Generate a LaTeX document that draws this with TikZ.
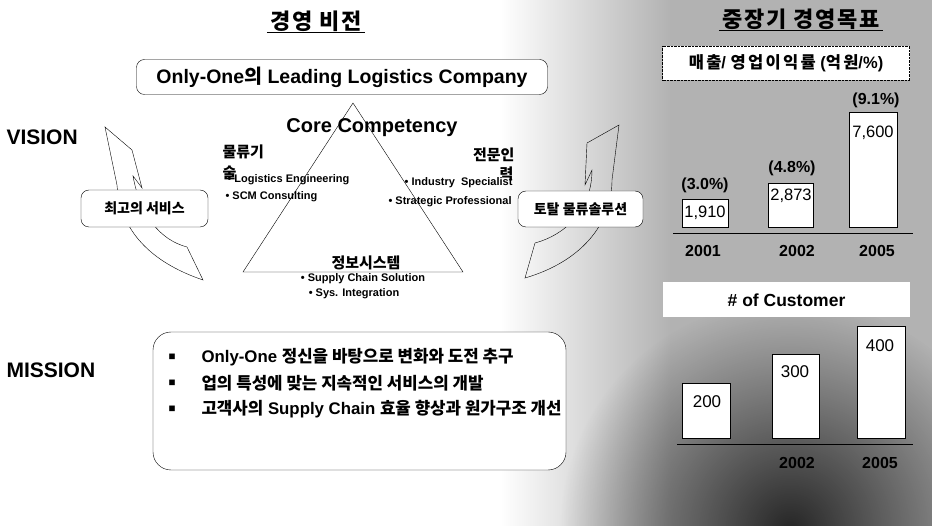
\documentclass[tikz,border=0pt]{standalone}
\usepackage{fontspec}
\setmainfont{Liberation Sans}
\newfontfamily\kr{Noto Sans CJK KR}
\newfontfamily\krwide{Noto Sans CJK KR}[LetterSpace=8]
\newfontfamily\krwider{Noto Sans CJK KR}[LetterSpace=14]
\usetikzlibrary{positioning, fadings}
\tikzfading[name=photo, inner color=transparent!0, outer color=transparent!100]

\begin{document}
\begin{tikzpicture}[x=1pt, y=-1pt, thin,
	rbox/.style={draw, rounded corners=8pt, fill=white, inner sep=0pt},
	head/.style={font=\krwide\bfseries\fontsize{22}{22}\selectfont},
	big/.style={font=\bfseries\fontsize{21}{21}\selectfont},
	sub/.style={font=\kr\bfseries\fontsize{15}{15}\selectfont},
	small/.style={font=\bfseries\fontsize{11}{11}\selectfont},
	mid/.style={font=\kr\bfseries\fontsize{14}{14}\selectfont},
	pct/.style={font=\bfseries\fontsize{16}{16}\selectfont},
	num/.style={font=\fontsize{16.5}{16.5}\selectfont},
	bar/.style={draw, fill=white}]
	\useasboundingbox (0,0) rectangle (932,526);
	
	%background
	\fill[gray!60] (600,0) rectangle (932,526);
	\fill[left color=white, right color=gray!60] (500,0) rectangle (670,526);
	\fill[black!85, path fading=photo] (790,530) circle (230);
	
	%titles
	\node[head] (t1) at (316,21){경영 비전};
	\draw ([yshift=-3pt]t1.base west) -- ([yshift=-3pt]t1.base east);
	\node[head] (t2) at (801,19){중장기 경영목표};
	\draw ([yshift=-3pt]t2.base west) -- ([yshift=-3pt]t2.base east);
	
	%vision
	\node[rbox, minimum width=411pt, minimum height=35pt, font=\bfseries\fontsize{19.5}{19.5}\selectfont] (goal) at (342,77){Only-One{\kr 의} Leading Logistics Company};
	\node[big, anchor=west] (vis) at (3,137){VISION};
	
	%cycle arrows
	\draw (105,127) -- (132,150) -- (142,188) -- (133,176)
		.. controls (140,215) and (160,240) .. (187,247) -- (203,280)
		.. controls (150,262) and (120,230) .. (117,185) -- cycle;
	\draw (619,125) -- (587,143) -- (585,185) -- (592,170)
		.. controls (592,210) and (565,235) .. (535,243) -- (525,278)
		.. controls (580,262) and (612,225) .. (612,180) -- cycle;
	
	%core competency
	\coordinate (apex) at (353,103);
	\coordinate (bl) at (243,272);
	\coordinate (br) at (463,272);
	\draw (apex) -- (bl) -- (br) -- cycle;
	\node[font=\bfseries\fontsize{20}{20}\selectfont] (core) at (372,128){Core Competency};
	
	\node[sub, anchor=west] (c1) at (219,152){물류기};
	\node[small, anchor=west] (c1a) at (224,180){• Logistics Engineering};
	\node[sub, anchor=west] (c1b) at (219,173){술};
	\node[small, anchor=west] (c1c) at (222,197){• SCM Consulting};
	
	\node[sub, anchor=east] (c2) at (518,155){전문인};
	\node[small, anchor=east] (c2a) at (516,183){• Industry \ Specialist};
	\node[sub, anchor=east] (c2b) at (517,174){력};
	\node[small, anchor=west] (c2c) at (385,202){• Strategic Professional};
	
	\node[sub] (c3) at (366,263){정보시스템};
	\node[small] (c3a) at (363,279){• Supply Chain Solution};
	\node[small] (c3b) at (354,294){• Sys. Integration};
	
	\node[rbox, mid, minimum width=127pt, minimum height=37pt] (svc) at (144.5,208.5){최고의 서비스};
	\node[rbox, mid, minimum width=125pt, minimum height=36pt] (sol) at (580.5,209){토탈 물류솔루션};
	
	%mission
	\node[big, anchor=west] (mis) at (3,370){MISSION};
	\node[rbox, minimum width=413pt, minimum height=138pt, rounded corners=18pt] (mbox) at (359.5,401){};
	\foreach \i/\y/\txt in {1/357/Only-One {\kr 정신을 바탕으로 변화와 도전 추구},
		2/383/{\kr 업의 특성에 맞는 지속적인 서비스의 개발},
		3/409/{\kr 고객사의} Supply Chain {\kr 효율 향상과 원가구조 개선}}{
		\node[font=\kr\fontsize{7}{7}\selectfont] (mb\i) at (172,\y){■};
		\node[font=\bfseries\fontsize{16.8}{16.8}\selectfont, anchor=west] (ml\i) at (198,\y){\txt};
	}
	
	%sales chart
	\node[draw, densely dotted, fill=white, minimum width=247pt, minimum height=34pt, inner sep=0pt] (sales) at (786,63.5){};
	\node[font=\bfseries\fontsize{16.5}{16.5}\selectfont] (salest) at (786,63.5){{\krwider 매출}/ {\krwider 영업이익률} ({\krwider 억원}/\%)};
	\draw (673,233) -- (913,233);
	\foreach \xl/\xr/\yt in {682/728/199, 768/813/183, 849/897/112}{
		\draw[bar] (\xl,\yt) rectangle (\xr,227);
	}
	\node[num] (s1) at (705,213){1,910};
	\node[num] (s2) at (791,196){2,873};
	\node[num] (s3) at (873,133){7,600};
	\node[pct] (p1) at (705,185){(3.0\%)};
	\node[pct] (p2) at (792,168){(4.8\%)};
	\node[pct] (p3) at (876,100){(9.1\%)};
	\node[pct] (y1) at (703,251){2001};
	\node[pct] (y2) at (797,251){2002};
	\node[pct] (y3) at (877,251){2005};
	
	%customer chart
	\node[fill=white, minimum width=247pt, minimum height=35pt, inner sep=0pt, font=\bfseries\fontsize{17.5}{17.5}\selectfont] (cust) at (786.5,300){\# of Customer};
	\draw (677,444) -- (913,444);
	\foreach \xl/\xr/\yt in {682/730/383, 772/819/354, 857/905/326}{
		\draw[bar] (\xl,\yt) rectangle (\xr,438);
	}
	\node[font=\fontsize{17}{17}\selectfont] (n1) at (707,402){200};
	\node[font=\fontsize{17}{17}\selectfont] (n2) at (795,372){300};
	\node[font=\fontsize{17}{17}\selectfont] (n3) at (880,346){400};
	\node[pct] (z2) at (797,463){2002};
	\node[pct] (z3) at (880,463){2005};
\end{tikzpicture}
\end{document}
